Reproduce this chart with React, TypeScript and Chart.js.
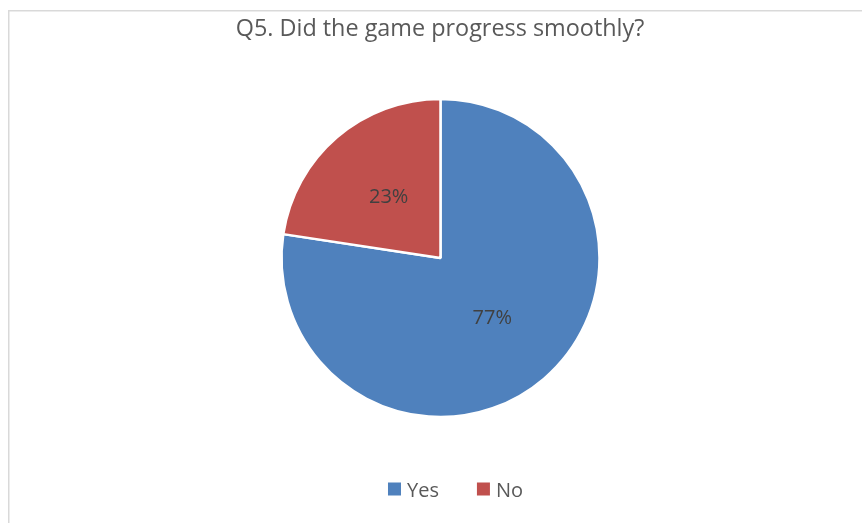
import React, { useEffect, useRef } from "react";
import { Chart, registerables } from "chart.js";

Chart.register(...registerables);

const TITLE = "Q5. Did the game progress smoothly?";
const CATEGORIES = ["Yes", "No"];
const VALUES = [77.4, 22.6];
const COLORS = ["#4F81BD", "#C0504D"];

const FONT = "'Open Sans', 'Noto Sans', sans-serif";

const framePlugin = {
  id: "frame",
  beforeDraw(chart: any) {
    const ctx = chart.ctx;
    ctx.save();
    ctx.fillStyle = "#ffffff";
    ctx.fillRect(0, 0, chart.width, chart.height);
    ctx.strokeStyle = "#d9d9d9";
    ctx.lineWidth = 1.5;
    ctx.beginPath();
    ctx.moveTo(8.75, chart.height);
    ctx.lineTo(8.75, 10.75);
    ctx.lineTo(chart.width, 10.75);
    ctx.stroke();
    ctx.restore();
  },
};

const textPlugin = {
  id: "texts",
  afterDraw(chart: any) {
    const ctx = chart.ctx;
    const meta = chart.getDatasetMeta(0);
    const data = chart.data.datasets[0].data as number[];
    const total = data.reduce((a: number, b: number) => a + b, 0);
    ctx.save();

    // title
    ctx.font = `23.4px ${FONT}`;
    ctx.fillStyle = "#595959";
    ctx.textAlign = "center";
    ctx.textBaseline = "alphabetic";
    ctx.fillText(TITLE, 440, 36);

    // data labels
    ctx.font = `20px ${FONT}`;
    ctx.fillStyle = "#404040";
    ctx.textBaseline = "middle";
    meta.data.forEach((arc: any, i: number) => {
      const p = arc.tooltipPosition();
      const pct = Math.round((data[i] / total) * 100) + "%";
      ctx.fillText(pct, p.x, p.y);
    });

    // legend
    ctx.font = `20px ${FONT}`;
    const box = 13;
    const gap = 6;
    const itemGap = 38;
    const labels = chart.data.labels as string[];
    const widths = labels.map((l) => ctx.measureText(l).width);
    let total_w = 0;
    widths.forEach((w: number, i: number) => {
      total_w += box + gap + w + (i < widths.length - 1 ? itemGap : 0);
    });
    let x = 455.5 - total_w / 2;
    const baseline = 497;
    ctx.textAlign = "left";
    ctx.textBaseline = "alphabetic";
    labels.forEach((l, i) => {
      ctx.fillStyle = COLORS[i];
      ctx.fillRect(x, 482.5, box, box);
      ctx.fillStyle = "#595959";
      ctx.fillText(l, x + box + gap, baseline);
      x += box + gap + widths[i] + itemGap;
    });
    ctx.restore();
  },
};

export default function App() {
  const ref = useRef<HTMLCanvasElement | null>(null);
  useEffect(() => {
    if (!ref.current) return;
    const chart = new Chart(ref.current, {
      type: "pie",
      data: {
        labels: CATEGORIES,
        datasets: [
          {
            data: VALUES,
            backgroundColor: COLORS,
            borderColor: "#ffffff",
            borderWidth: 2.5,
            radius: 159,
            hoverOffset: 0,
          } as any,
        ],
      },
      options: {
        animation: false,
        responsive: false,
        devicePixelRatio: 1,
        layout: { padding: { left: 19, right: 0, top: 0, bottom: 7 } },
        plugins: {
          legend: { display: false },
          title: { display: false },
          tooltip: { enabled: false },
        },
      },
      plugins: [framePlugin, textPlugin],
    });
    return () => chart.destroy();
  }, []);
  return (
    <div style={{ position: "fixed", left: 0, top: 0, width: 862, height: 523, background: "#fff" }}>
      <canvas ref={ref} width={862} height={523} style={{ width: 862, height: 523, display: "block" }} />
    </div>
  );
}
